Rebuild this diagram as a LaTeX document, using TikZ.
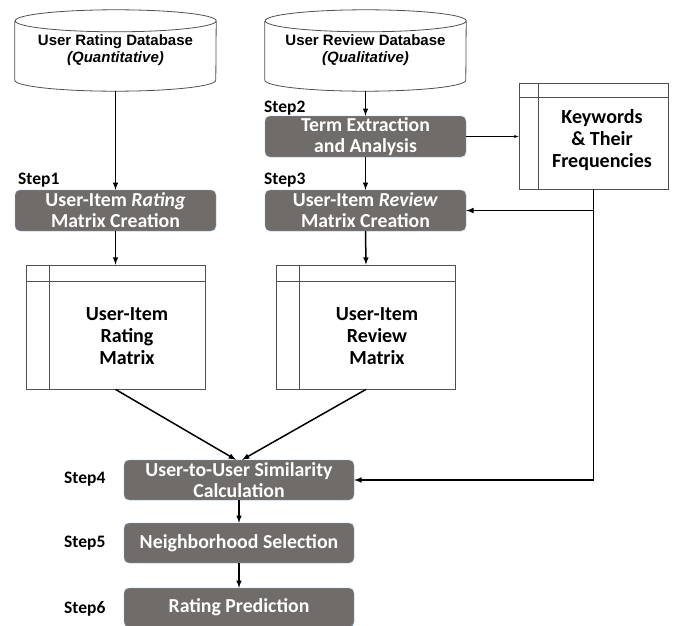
\documentclass[tikz,border=0pt]{standalone}
\usepackage{fontspec}
\setmainfont{Carlito}
\newfontfamily\arialfont{Liberation Sans}
\usetikzlibrary{arrows}

\definecolor{boxgray}{RGB}{112,108,106}
\definecolor{boxblue}{RGB}{141,174,214}
\definecolor{framegray}{RGB}{80,80,80}

% outline of a database drum round a named node
\newcommand{\drumoutline}[1]{%
  \draw[framegray, line width=0.8pt] ([yshift=-11pt]#1.north west) -- ([yshift=11pt]#1.south west)
    arc[start angle=180, end angle=360, x radius=100.5pt, y radius=11pt]
    -- ([yshift=-11pt]#1.north east)
    arc[start angle=0, end angle=360, x radius=100.5pt, y radius=11pt];}

\tikzset{
  dbase/.style={minimum width=201pt, minimum height=81pt, align=center, inner sep=0pt, font=\arialfont\bfseries\fontsize{15}{17}\selectfont},
  stepbox/.style={draw=boxblue, fill=boxgray, rounded corners=5pt, text=white, align=center, inner sep=0pt, font=\bfseries\fontsize{19.8}{21}\selectfont},
  steptag/.style={anchor=west, inner sep=0pt, font=\bfseries\fontsize{17.5}{18}\selectfont},
  datatable/.style 2 args={draw=framegray, line width=0.8pt, path picture={
      \draw[framegray, line width=0.8pt] ([xshift=#1]path picture bounding box.north west) -- ([xshift=#1]path picture bounding box.south west);
      \draw[framegray, line width=0.8pt] ([yshift=-#2]path picture bounding box.north west) -- ([yshift=-#2]path picture bounding box.north east);}},
  tabletext/.style={align=center, inner sep=0pt, font=\bfseries\fontsize{20}{22}\selectfont},
  flow/.style={-latex, line width=1.5pt},
}

\begin{document}
\begin{tikzpicture}[x=1pt, y=-1pt]
  \useasboundingbox (0,0) rectangle (677,626);

  % databases
  \node[dbase] (ratingdb) at (115.5,50.5) {User Rating Database\\\textit{(Quantitative)}};
  \node[dbase] (reviewdb) at (365.5,50.5) {User Review Database\\\textit{(Qualitative)}};
  \drumoutline{ratingdb}
  \drumoutline{reviewdb}

  % steps
  \node[stepbox, minimum width=201pt, minimum height=41pt] (step1) at (115.5,210.5) {User-Item \textit{Rating}\\Matrix Creation};
  \node[stepbox, minimum width=201pt, minimum height=41pt] (step2) at (365.5,136.5) {Term Extraction\\and Analysis};
  \node[stepbox, minimum width=201pt, minimum height=41pt] (step3) at (365.5,210.5) {User-Item \textit{Review}\\Matrix Creation};
  \node[stepbox, minimum width=230pt, minimum height=40pt] (step4) at (239,480) {User-to-User Similarity\\Calculation};
  \node[stepbox, minimum width=230pt, minimum height=40pt] (step5) at (239,543) {Neighborhood Selection};
  \node[stepbox, minimum width=230pt, minimum height=39pt] (step6) at (239,607.5) {Rating Prediction};

  \node[steptag] (tag1) at (18,180) {Step1};
  \node[steptag] (tag2) at (264,108) {Step2};
  \node[steptag] (tag3) at (264,180) {Step3};
  \node[steptag] (tag4) at (64,479) {Step4};
  \node[steptag] (tag5) at (64,543) {Step5};
  \node[steptag] (tag6) at (64,609) {Step6};

  % tables
  \node[datatable={19pt}{14pt}, minimum width=149pt, minimum height=106pt] (keywords) at (593.5,136) {};
  \node[tabletext] (keywordstext) at (602,140) {Keywords\\\& Their\\Frequencies};
  \node[datatable={23pt}{16pt}, minimum width=179pt, minimum height=124pt] (ratingmx) at (115.5,327) {};
  \node[tabletext] (ratingmxtext) at (127,336) {User-Item\\Rating\\Matrix};
  \node[datatable={23pt}{16pt}, minimum width=179pt, minimum height=124pt] (reviewmx) at (366,327) {};
  \node[tabletext] (reviewmxtext) at (377,336) {User-Item\\Review\\Matrix};

  % connectors
  \draw[flow] (ratingdb.south) -- (step1.north);
  \draw[flow] (reviewdb.south) -- (step2.north);
  \draw[flow] (step2.south) -- (step3.north);
  \draw[-latex, line width=0.5pt] (step2.east) -- (keywords.west |- step2.east);
  \draw[flow] (step1.south) -- (ratingmx.north);
  \draw[flow] (step3.south) -- (reviewmx.north);
  \draw[flow] (ratingmx.south) -- ([xshift=-3pt]step4.north);
  \draw[flow] (reviewmx.south) -- ([xshift=3pt]step4.north);
  \draw[flow] (step4.south) -- (step5.north);
  \draw[flow] (step5.south) -- (step6.north);
  \coordinate (branch) at (keywords.south |- step3.east);
  \draw[flow] (keywords.south) -- (keywords.south |- step4.east) -- (step4.east);
  \draw[flow] (branch) -- (step3.east);
\end{tikzpicture}
\end{document}
